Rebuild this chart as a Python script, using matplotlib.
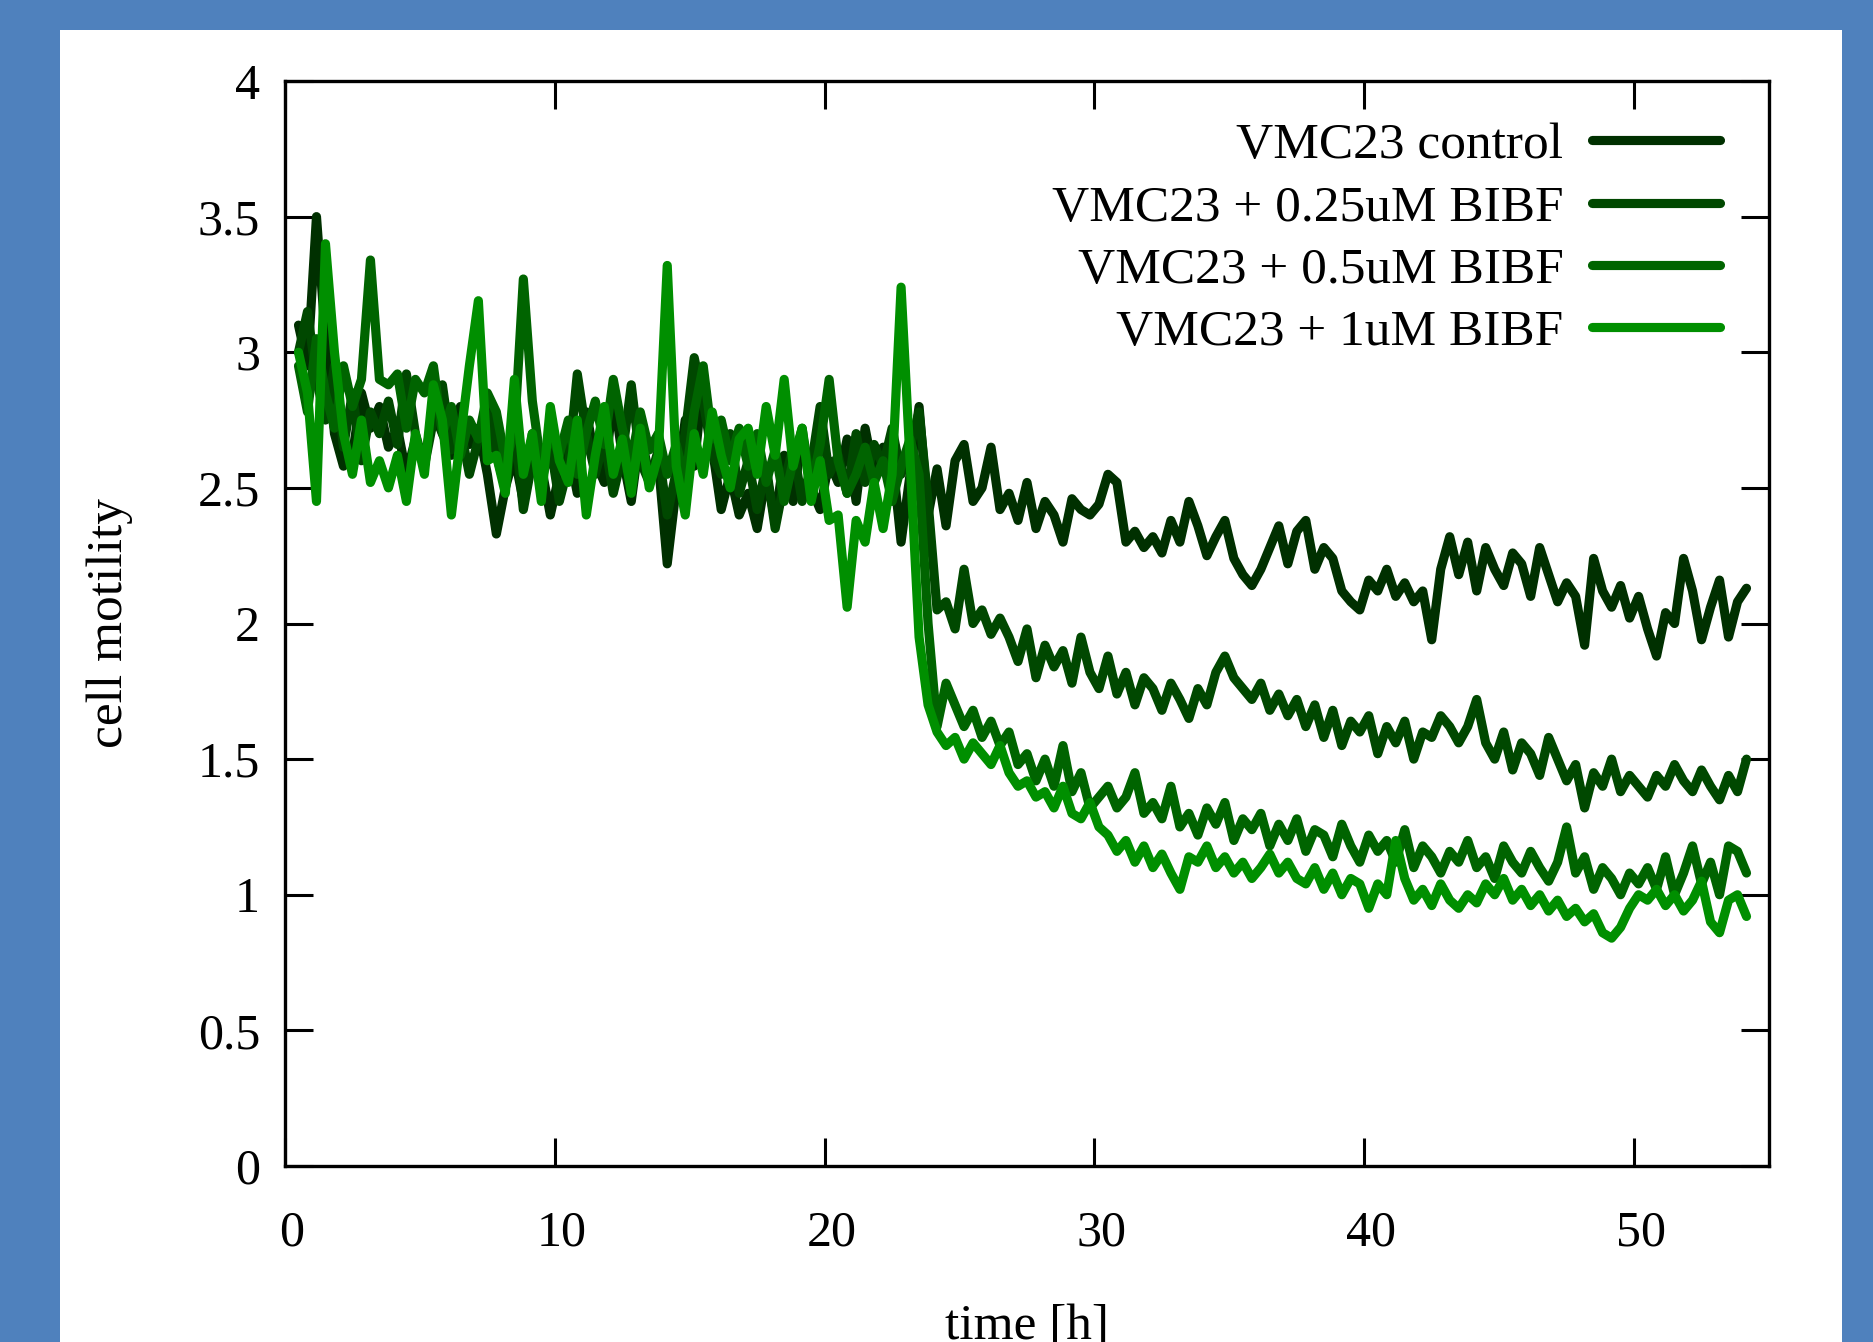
import numpy as np
import matplotlib
matplotlib.use("Agg")
import matplotlib.pyplot as plt
from matplotlib.patches import Rectangle
from matplotlib.ticker import FuncFormatter
from matplotlib.transforms import ScaledTranslation

# ---------------- data (sampled every 20 min from t = 0.5 h) ----------------
t_start = 0.5
t_step = 1.0 / 3.0

control = [
    3.10, 2.95, 3.50, 3.05, 2.70, 2.58, 2.62, 2.85, 2.72, 2.80,
    2.65, 2.72, 2.55, 2.68, 2.60, 2.78, 2.70, 2.62, 2.80, 2.66,
    2.72, 2.55, 2.33, 2.50, 2.62, 2.45, 2.70, 2.58, 2.40, 2.55,
    2.65, 2.48, 2.78, 2.60, 2.52, 2.85, 2.62, 2.45, 2.70, 2.55,
    2.60, 2.22, 2.50, 2.75, 2.58, 2.90, 2.65, 2.42, 2.55, 2.40,
    2.48, 2.35, 2.55, 2.38, 2.62, 2.45, 2.70, 2.50, 2.42, 2.60,
    2.52, 2.68, 2.45, 2.72, 2.55, 2.65, 2.62, 2.30, 2.55, 2.80,
    2.40, 2.57, 2.36, 2.60, 2.66, 2.45, 2.50, 2.65, 2.42, 2.48,
    2.38, 2.52, 2.35, 2.45, 2.40, 2.30, 2.46, 2.42, 2.40, 2.44,
    2.55, 2.52, 2.30, 2.34, 2.28, 2.32, 2.26, 2.38, 2.30, 2.45,
    2.36, 2.25, 2.32, 2.38, 2.24, 2.18, 2.14, 2.20, 2.28, 2.36,
    2.22, 2.34, 2.38, 2.20, 2.28, 2.24, 2.12, 2.08, 2.05, 2.16,
    2.12, 2.20, 2.10, 2.15, 2.08, 2.12, 1.94, 2.20, 2.32, 2.18,
    2.30, 2.12, 2.28, 2.20, 2.14, 2.26, 2.22, 2.10, 2.28, 2.18,
    2.08, 2.15, 2.10, 1.92, 2.24, 2.12, 2.06, 2.14, 2.02, 2.10,
    1.98, 1.88, 2.04, 2.00, 2.24, 2.12, 1.94, 2.06, 2.16, 1.95,
    2.08, 2.13,
]

bibf_025 = [
    3.00, 3.15, 2.90, 2.75, 2.95, 2.65, 2.85, 2.60, 2.78, 2.70,
    2.82, 2.66, 2.92, 2.70, 2.58, 2.75, 2.88, 2.64, 2.72, 2.55,
    2.68, 2.80, 2.62, 2.50, 2.74, 2.42, 2.60, 2.52, 2.66, 2.45,
    2.58, 2.92, 2.70, 2.55, 2.68, 2.48, 2.62, 2.88, 2.60, 2.52,
    2.64, 2.40, 2.56, 2.70, 2.98, 2.82, 2.62, 2.55, 2.70, 2.48,
    2.60, 2.42, 2.58, 2.35, 2.52, 2.65, 2.45, 2.58, 2.80, 2.55,
    2.62, 2.48, 2.70, 2.52, 2.66, 2.58, 2.72, 2.55, 2.65, 2.78,
    2.45, 2.05, 2.08, 1.98, 2.20, 2.00, 2.05, 1.96, 2.02, 1.95,
    1.86, 1.98, 1.80, 1.92, 1.84, 1.90, 1.78, 1.95, 1.82, 1.76,
    1.88, 1.74, 1.82, 1.70, 1.80, 1.76, 1.68, 1.78, 1.72, 1.65,
    1.76, 1.70, 1.82, 1.88, 1.80, 1.76, 1.72, 1.78, 1.68, 1.74,
    1.66, 1.72, 1.62, 1.70, 1.58, 1.68, 1.55, 1.64, 1.60, 1.66,
    1.52, 1.62, 1.56, 1.64, 1.50, 1.60, 1.58, 1.66, 1.62, 1.56,
    1.62, 1.72, 1.56, 1.50, 1.60, 1.46, 1.56, 1.52, 1.44, 1.58,
    1.50, 1.42, 1.48, 1.32, 1.45, 1.40, 1.50, 1.38, 1.44, 1.40,
    1.36, 1.44, 1.40, 1.48, 1.42, 1.38, 1.46, 1.40, 1.35, 1.44,
    1.38, 1.50,
]

bibf_05 = [
    2.95, 2.78, 3.05, 2.85, 2.72, 2.95, 2.80, 2.90, 3.34, 2.90,
    2.88, 2.92, 2.72, 2.90, 2.85, 2.95, 2.70, 2.80, 2.62, 2.75,
    2.68, 2.85, 2.78, 2.60, 2.70, 3.27, 2.82, 2.58, 2.70, 2.62,
    2.75, 2.55, 2.70, 2.82, 2.66, 2.90, 2.72, 2.60, 2.78, 2.64,
    2.70, 2.55, 2.66, 2.52, 2.78, 2.95, 2.68, 2.75, 2.60, 2.72,
    2.58, 2.70, 2.52, 2.64, 2.45, 2.60, 2.72, 2.50, 2.66, 2.90,
    2.60, 2.48, 2.55, 2.65, 2.52, 2.60, 2.45, 2.58, 2.68, 2.55,
    2.00, 1.62, 1.78, 1.70, 1.62, 1.68, 1.58, 1.64, 1.55, 1.60,
    1.48, 1.52, 1.42, 1.50, 1.40, 1.55, 1.38, 1.45, 1.32, 1.36,
    1.40, 1.32, 1.36, 1.45, 1.30, 1.34, 1.28, 1.40, 1.25, 1.30,
    1.22, 1.32, 1.26, 1.34, 1.20, 1.28, 1.24, 1.30, 1.18, 1.26,
    1.20, 1.28, 1.16, 1.24, 1.22, 1.14, 1.26, 1.18, 1.12, 1.22,
    1.16, 1.20, 1.12, 1.24, 1.10, 1.18, 1.14, 1.08, 1.16, 1.12,
    1.20, 1.10, 1.14, 1.06, 1.18, 1.12, 1.08, 1.16, 1.10, 1.05,
    1.12, 1.25, 1.08, 1.14, 1.02, 1.10, 1.06, 1.00, 1.08, 1.04,
    1.10, 1.02, 1.14, 1.00, 1.08, 1.18, 1.04, 1.12, 1.00, 1.18,
    1.16, 1.08,
]

bibf_1 = [
    3.00, 2.85, 2.45, 3.40, 3.00, 2.70, 2.55, 2.75, 2.52, 2.60,
    2.50, 2.62, 2.45, 2.70, 2.55, 2.88, 2.75, 2.40, 2.68, 2.95,
    3.19, 2.60, 2.62, 2.48, 2.90, 2.55, 2.70, 2.45, 2.80, 2.60,
    2.52, 2.75, 2.40, 2.62, 2.80, 2.55, 2.68, 2.48, 2.72, 2.50,
    2.62, 3.32, 2.58, 2.40, 2.70, 2.55, 2.78, 2.62, 2.50, 2.68,
    2.72, 2.55, 2.80, 2.62, 2.90, 2.58, 2.72, 2.45, 2.60, 2.38,
    2.40, 2.06, 2.38, 2.30, 2.52, 2.35, 2.55, 3.24, 2.60, 1.95,
    1.70, 1.60, 1.55, 1.58, 1.50, 1.56, 1.52, 1.48, 1.55, 1.45,
    1.40, 1.42, 1.36, 1.38, 1.32, 1.40, 1.30, 1.28, 1.34, 1.25,
    1.22, 1.16, 1.20, 1.12, 1.18, 1.10, 1.15, 1.08, 1.02, 1.14,
    1.12, 1.18, 1.10, 1.14, 1.08, 1.12, 1.06, 1.10, 1.15, 1.08,
    1.12, 1.06, 1.04, 1.10, 1.02, 1.08, 1.00, 1.06, 1.04, 0.95,
    1.04, 1.00, 1.20, 1.06, 0.98, 1.02, 0.96, 1.04, 0.98, 0.95,
    1.00, 0.97, 1.04, 1.00, 1.06, 0.98, 1.02, 0.96, 1.00, 0.94,
    0.98, 0.92, 0.95, 0.90, 0.93, 0.86, 0.84, 0.88, 0.95, 1.00,
    0.98, 1.02, 0.96, 1.00, 0.94, 0.98, 1.05, 0.90, 0.86, 0.98,
    1.00, 0.92,
]

series_labels = ["VMC23 control", "VMC23 + 0.25uM BIBF",
                 "VMC23 + 0.5uM BIBF", "VMC23 + 1uM BIBF"]
series_values = [control, bibf_025, bibf_05, bibf_1]
series_colors = ["#003000", "#004800", "#006400", "#008f00"]

x_ticks = [0, 10, 20, 30, 40, 50]
y_ticks = [0, 0.5, 1, 1.5, 2, 2.5, 3, 3.5, 4]

# ---------------- styling ----------------
plt.rcParams["font.family"] = ["Liberation Serif", "DejaVu Serif"]
plt.rcParams["lines.solid_capstyle"] = "round"
plt.rcParams["lines.solid_joinstyle"] = "round"

W, H = 1873, 1342
fig = plt.figure(figsize=(W / 100, H / 100), dpi=100, facecolor="#4f81bd")

# white panel
fig.patches.append(Rectangle((60 / W, 0), (1842 - 60) / W, 1 - 30 / H,
                             transform=fig.transFigure, facecolor="white",
                             edgecolor="none", zorder=-10))

ax_l, ax_r, ax_t, ax_b = 285, 1769, 81, 1166
ax = fig.add_axes([ax_l / W, 1 - ax_b / H, (ax_r - ax_l) / W, (ax_b - ax_t) / H])
ax.set_facecolor("white")

for vals, lab, col in zip(series_values, series_labels, series_colors):
    tt = t_start + t_step * np.arange(len(vals))
    ax.plot(tt, vals, color=col, lw=6.6, label=lab)

ax.set_xlim(0, 55)
ax.set_ylim(0, 4)
ax.set_xticks(x_ticks)
ax.set_yticks(y_ticks)
ax.yaxis.set_major_formatter(FuncFormatter(lambda v, p: "%g" % v))

for s in ax.spines.values():
    s.set_linewidth(2.4)
ax.tick_params(direction="in", length=20, width=2.2, top=True, right=True,
               labelsize=36)
ax.tick_params(axis="x", pad=32)
ax.tick_params(axis="y", pad=18)

# small rightward shift of the x tick labels, as in the reference
shift = ScaledTranslation(7 / 100, 0, fig.dpi_scale_trans)
for lbl in ax.get_xticklabels():
    lbl.set_transform(lbl.get_transform() + shift)

ax.set_xlabel("time [h]", fontsize=37)
ax.xaxis.set_label_coords(0.5, -(1339 - ax_b) / (ax_b - ax_t))
ax.xaxis.label.set_va("baseline")
ax.set_ylabel("cell motility", fontsize=37)
ax.yaxis.set_label_coords((110 - ax_l) / (ax_r - ax_l), 0.5)
ax.yaxis.label.set_va("center")

leg = ax.legend(loc="upper right", bbox_to_anchor=(0.967, 0.962),
                frameon=False, markerfirst=False, fontsize=37,
                handlelength=2.5, handletextpad=0.55, labelspacing=0.3,
                borderpad=0, borderaxespad=0)

fig.savefig("out.png", dpi=100, facecolor=fig.get_facecolor())
